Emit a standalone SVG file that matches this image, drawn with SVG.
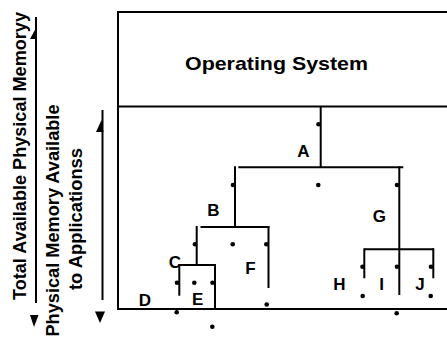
<svg xmlns="http://www.w3.org/2000/svg" width="447" height="340" viewBox="0 0 447 340">
<style>
.ln{stroke:#000;stroke-width:2;fill:none}
.t{font-family:"Liberation Sans",Arial,sans-serif;font-weight:bold;fill:#000}
.lbl{font-size:17px;text-anchor:middle}
.side{font-size:18px;text-anchor:middle}
.dot{fill:#000}
.ah{fill:#000}
</style>
<rect width="447" height="340" fill="#fff"/>
<g id="side-labels">
<g id="total-memory">
<line class="ln" x1="36" y1="17" x2="36" y2="303"/>
<polygon class="ah" points="36,28 30,39 37,39"/>
<polygon class="ah" points="30,315 38.5,315 34,327"/>
<text class="t side" transform="translate(25.5,156) rotate(-90)" textLength="288" lengthAdjust="spacingAndGlyphs">Total  Available Physical Memoryy</text>
</g>
<g id="app-memory">
<line class="ln" x1="102.5" y1="110" x2="102.5" y2="300"/>
<polygon class="ah" points="101.5,120 96,132 103.5,132"/>
<polygon class="ah" points="95,311.5 105,311.5 100,323"/>
<text class="t side" transform="translate(58.5,220.5) rotate(-90)" textLength="232" lengthAdjust="spacingAndGlyphs">Physical Memory Available</text>
<text class="t side" transform="translate(81.5,219) rotate(-90)" textLength="142" lengthAdjust="spacingAndGlyphs">to Applicationss</text>
</g>
</g>
<g id="memory-box">
<polyline class="ln" points="450,12 118,12 118,309 450,309"/>
<line class="ln" x1="118" y1="106.5" x2="450" y2="106.5"/>
</g>
<g id="os">
<text class="t" x="276.5" y="70" font-size="19" text-anchor="middle" textLength="183" lengthAdjust="spacingAndGlyphs">Operating System</text>
</g>
<g id="connectors">
<line class="ln" x1="320.7" y1="106.5" x2="320.7" y2="167.3"/>
<line class="ln" x1="238.3" y1="167.3" x2="403.3" y2="167.3"/>
<line class="ln" x1="235" y1="166.3" x2="235" y2="227.3"/>
<line class="ln" x1="200.5" y1="227" x2="269.3" y2="227"/>
<line class="ln" x1="196.7" y1="226" x2="196.7" y2="265"/>
<line class="ln" x1="268.5" y1="226" x2="268.5" y2="288"/>
<line class="ln" x1="179.3" y1="265" x2="215" y2="265"/>
<line class="ln" x1="179.3" y1="264" x2="179.3" y2="295.7"/>
<line class="ln" x1="215" y1="264" x2="215" y2="309"/>
<line class="ln" x1="399.3" y1="166.3" x2="399.3" y2="295"/>
<line class="ln" x1="364.3" y1="249.3" x2="434" y2="249.3"/>
<line class="ln" x1="364.3" y1="248.3" x2="364.3" y2="278.3"/>
<line class="ln" x1="433.3" y1="248.3" x2="433.3" y2="278.3"/>
</g>
<g id="dots">
<circle class="dot" cx="318.5" cy="124.3" r="2.3"/>
<circle class="dot" cx="318.3" cy="185" r="2.3"/>
<circle class="dot" cx="233" cy="185" r="2.3"/>
<circle class="dot" cx="397" cy="185" r="2.3"/>
<circle class="dot" cx="195" cy="244.3" r="2.3"/>
<circle class="dot" cx="232.7" cy="244.3" r="2.3"/>
<circle class="dot" cx="266.3" cy="244.3" r="2.3"/>
<circle class="dot" cx="266.7" cy="304.5" r="2.3"/>
<circle class="dot" cx="177" cy="282.7" r="2.3"/>
<circle class="dot" cx="194.3" cy="282.7" r="2.3"/>
<circle class="dot" cx="212.5" cy="282.7" r="2.3"/>
<circle class="dot" cx="176.7" cy="312.3" r="2.3"/>
<circle class="dot" cx="212.3" cy="326.7" r="2.3"/>
<circle class="dot" cx="362.5" cy="266.7" r="2.3"/>
<circle class="dot" cx="397" cy="266.7" r="2.3"/>
<circle class="dot" cx="431" cy="266.7" r="2.3"/>
<circle class="dot" cx="362.7" cy="296" r="2.3"/>
<circle class="dot" cx="430.7" cy="296" r="2.3"/>
<circle class="dot" cx="396.7" cy="313.3" r="2.3"/>
</g>
<g id="labels">
<g id="node-A"><text class="t lbl" x="303.3" y="156.5">A</text></g>
<g id="node-B"><text class="t lbl" x="213.3" y="215.5">B</text></g>
<g id="node-C"><text class="t lbl" x="175" y="267.5">C</text></g>
<g id="node-D"><text class="t lbl" x="145" y="306">D</text></g>
<g id="node-E"><text class="t lbl" x="197.7" y="305.3">E</text></g>
<g id="node-F"><text class="t lbl" x="250.5" y="274.3">F</text></g>
<g id="node-G"><text class="t lbl" x="379.3" y="222">G</text></g>
<g id="node-H"><text class="t lbl" x="339.3" y="290.3">H</text></g>
<g id="node-I"><text class="t lbl" x="381.7" y="290.3">I</text></g>
<g id="node-J"><text class="t lbl" x="420" y="290.3">J</text></g>
</g>
</svg>
